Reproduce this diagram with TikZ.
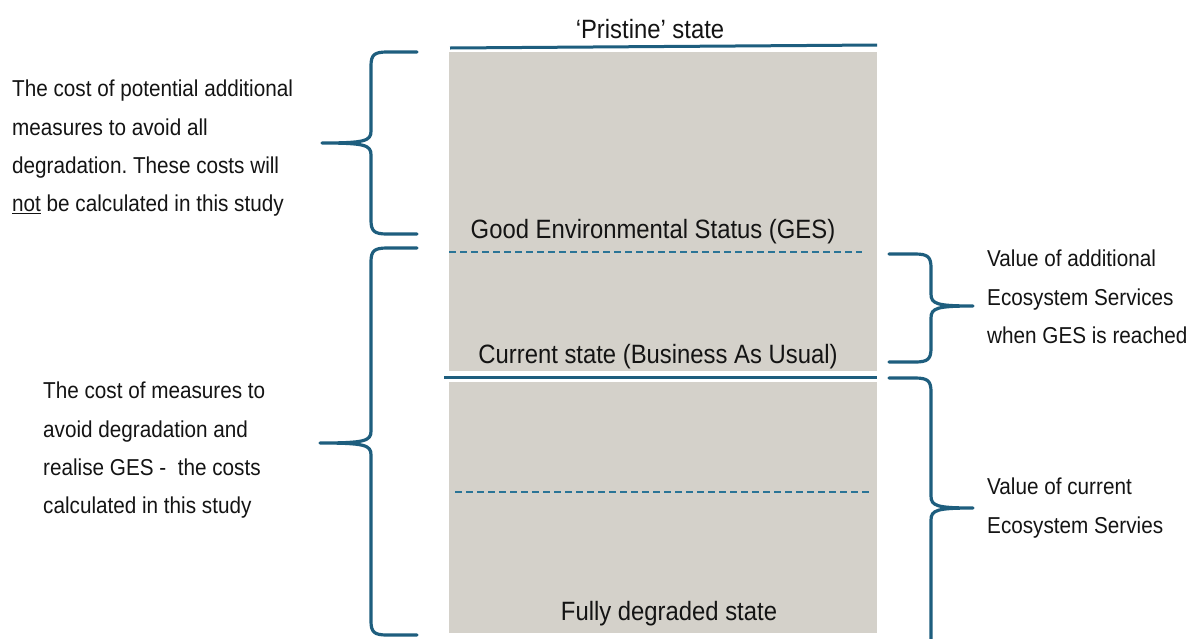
\documentclass[tikz,border=0pt]{standalone}
\usepackage{fontspec}
\setmainfont{Liberation Sans}[FakeStretch=0.9]
\definecolor{greyfill}{HTML}{D4D1CA}
\definecolor{bracecol}{HTML}{1E5E7E}
\definecolor{dashcol}{HTML}{2A7496}
\definecolor{txt}{HTML}{141414}
% #1 end x, #2 spine x, #3 tip x, #4 top y, #5 tip y, #6 bottom y, #7 direction (+1 tip to the right, -1 tip to the left)
\newcommand{\DrawBrace}[7]{%
  \draw[brace] (#1,#4) -- (#2-16*#7,#4)
    .. controls (#2-3*#7,#4) and (#2,#4+3) .. (#2,#4+14)
    -- (#2,#5-12)
    .. controls (#2,#5-2) and (#2+6*#7,#5) .. (#3,#5)
    .. controls (#2+6*#7,#5) and (#2,#5+2) .. (#2,#5+12)
    -- (#2,#6-14)
    .. controls (#2,#6-3) and (#2-3*#7,#6) .. (#2-16*#7,#6) -- (#1,#6);}
\begin{document}
\frenchspacing
\begin{tikzpicture}[x=1pt,y=-1pt,
  brace/.style={draw=bracecol,line width=3.2pt,line join=round,line cap=round},
  solidline/.style={draw=bracecol,line width=3pt},
  dashline/.style={draw=dashcol,line width=2.2pt,dash pattern=on 7pt off 4pt},
  statelbl/.style={font=\fontsize{26.5}{30}\selectfont,text=txt,inner sep=0pt,anchor=base},
  sidetext/.style={font=\fontsize{23}{38.3}\selectfont,text=txt,inner sep=0pt,align=left,anchor=north west}]
\useasboundingbox (0,0) rectangle (1190,638);
\fill[white] (0,0) rectangle (1190,638);
% grey areas
\fill[greyfill] (449,52) rectangle (877,371);
\fill[greyfill] (449,382) rectangle (877,633);
% level lines
\coordinate (pl) at (450,48); \coordinate (pr) at (877,45);
\draw[solidline] (pl) -- (pr);
\coordinate (cl) at (444,377); \coordinate (cr) at (877,377);
\draw[solidline] (cl) -- (cr);
\coordinate (g1) at (449,252); \coordinate (g2) at (862,252);
\draw[dashline] (g1) -- (g2);
\coordinate (d1) at (455,492); \coordinate (d2) at (870,492);
\draw[dashline] (d1) -- (d2);
% state labels
\node[statelbl] (pristine) at (650,38) {‘Pristine’ state};
\node[statelbl] (ges) at (653,238) {Good Environmental Status (GES)};
\node[statelbl] (current) at (658,363) {Current state (Business As Usual)};
\node[statelbl] (degraded) at (669,620) {Fully degraded state};
% braces
\DrawBrace{417}{371}{322}{52}{143}{234}{-1}
\DrawBrace{417}{371}{320}{248}{443}{635}{-1}
\DrawBrace{889}{931}{973}{254}{306}{362}{1}
\DrawBrace{889}{931}{973}{378}{508}{670}{1}
% side texts
\node[sidetext] (costpot) at (12,80) {The cost of potential additional\\measures to avoid all\\degradation. These costs will\\\underline{not} be calculated in this study};
\node[sidetext] (costmeas) at (43,382) {The cost of measures to\\avoid degradation and\\realise GES -\ \ the costs\\calculated in this study};
\node[sidetext] (valadd) at (987,250) {Value of additional\\Ecosystem Services\\when GES is reached};
\node[sidetext] (valcur) at (987,478) {Value of current\\Ecosystem Servies};
\end{tikzpicture}
\end{document}
